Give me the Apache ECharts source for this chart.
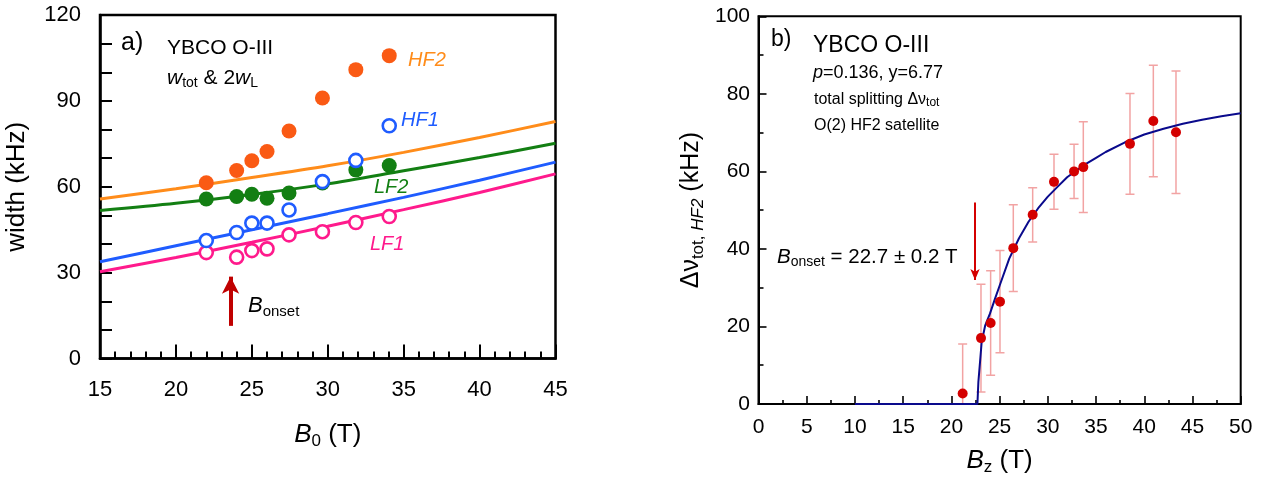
<!DOCTYPE html>
<html>
<head>
<meta charset="utf-8">
<script src="https://cdn.jsdelivr.net/npm/echarts@6/dist/echarts.min.js"></script>
<style>
html,body{margin:0;padding:0;background:#fff;}
#chart{width:1262px;height:481px;}
</style>
</head>
<body>
<div id="chart"></div>
<script>
// ---------- Panel a) data ----------
const leftX = [22.0, 24.0, 25.0, 26.0, 27.45, 29.65, 31.85, 34.05];
const hf2 = [61.4, 65.7, 69.1, 72.3, 79.5, 91.0, 100.9, 105.8];
const lf2 = [55.7, 56.6, 57.4, 56.0, 57.8, 61.3, 65.9, 67.4];
const hf1 = [41.2, 44.0, 47.3, 47.3, 51.9, 61.8, 69.2, 81.3];
const lf1 = [37.0, 35.4, 37.7, 38.3, 43.2, 44.3, 47.5, 49.6];

const fitX = [15, 20, 25, 30, 35, 40, 45];
const fitHF2 = [55.7, 59.3, 63.2, 67.3, 72.0, 77.2, 82.8];
const fitLF2 = [51.7, 54.2, 57.3, 61.0, 65.6, 70.2, 75.2];
const fitHF1 = [33.8, 39.4, 45.0, 50.6, 56.3, 62.3, 68.6];
const fitLF1 = [30.3, 35.3, 40.6, 46.2, 52.0, 58.0, 64.5];

const leftArrow = [[23.6, 11.4], [23.6, 28.6]];

// ---------- Panel b) data ----------
const bz = [21.17, 23.07, 24.07, 25.04, 26.42, 28.43, 30.64, 32.72, 33.68, 38.52, 40.94, 43.29];
const dnu = [2.7, 17.0, 20.9, 26.4, 40.2, 48.8, 57.3, 60.0, 61.1, 67.1, 73.0, 70.1];
const dnuErr = [12.8, 13.9, 13.5, 13.2, 11.2, 7.0, 7.1, 7.0, 11.7, 13.0, 14.4, 15.8];

const fitBz = [10, 22.7, 22.8, 22.97, 23.14, 23.5, 24, 24.5, 25, 26, 27, 28, 29, 30, 31, 32, 33, 34, 35, 36, 38, 40, 42, 44, 46, 48, 50];
const fitDnu = [0, 0, 5.7, 10.8, 16, 20.2, 23.3, 27, 30.5, 37.5, 42.7, 47, 50.5, 53.5, 56, 58.5, 60.3, 62, 63.5, 65, 67.5, 69.5, 71, 72.3, 73.3, 74.2, 75];

const rightArrow = [[22.45, 52], [22.45, 32]];

// tick labels
const leftXTicks = [15, 20, 25, 30, 35, 40, 45];
const leftYTicks = [0, 30, 60, 90, 120];
const rightXTicks = [0, 5, 10, 15, 20, 25, 30, 35, 40, 45, 50];
const rightYTicks = [0, 20, 40, 60, 80, 100];

const FONT = '"Liberation Sans", Arial, sans-serif';
const zip = (a, b) => a.map((v, i) => [v, b[i]]);

const chart = echarts.init(document.getElementById('chart'), null, {renderer: 'canvas'});

function axisBase(w, majorLen, minorLen, minorSplit, fs, margin) {
  return {
    type: 'value',
    axisLine: {show: true, onZero: false, lineStyle: {color: '#000', width: w}},
    axisTick: {show: true, inside: true, length: majorLen, lineStyle: {color: '#000', width: w * 0.8}},
    minorTick: {show: true, splitNumber: minorSplit, length: minorLen, lineStyle: {color: '#000', width: w * 0.8}},
    splitLine: {show: false},
    minorSplitLine: {show: false},
    axisLabel: {fontSize: fs, color: '#000', fontFamily: FONT, margin: margin}
  };
}

const option = {
  animation: false,
  backgroundColor: '#fff',
  textStyle: {fontFamily: FONT},
  grid: [
    {left: 100, top: 15, width: 455.5, height: 343.5, show: true, borderColor: '#000', borderWidth: 2.5, backgroundColor: 'transparent'},
    {left: 758.5, top: 16.3, width: 482.2, height: 389.2, show: true, borderColor: '#000', borderWidth: 2, backgroundColor: 'transparent'}
  ],
  xAxis: [
    Object.assign(axisBase(2.5, 14, 7, 5, 22, 20), {
      gridIndex: 0, min: leftXTicks[0], max: leftXTicks[leftXTicks.length - 1], interval: 5,
      name: '{i|B}{s|0}{n| (T)}', nameLocation: 'middle', nameGap: 61,
      nameTextStyle: {color: '#000', fontFamily: FONT, rich: {
        i: {fontSize: 26, fontStyle: 'italic', lineHeight: 30, fontFamily: FONT, color: '#000'},
        s: {fontSize: 17, lineHeight: 14, verticalAlign: 'bottom', fontFamily: FONT, color: '#000'},
        n: {fontSize: 26, lineHeight: 30, fontFamily: FONT, color: '#000'}}}
    }),
    Object.assign(axisBase(2, 8, 4, 2, 21, 12.5), {
      gridIndex: 1, min: rightXTicks[0], max: rightXTicks[rightXTicks.length - 1], interval: 5,
      name: '{i|B}{s|z}{n| (T)}', nameLocation: 'middle', nameGap: 42,
      nameTextStyle: {color: '#000', fontFamily: FONT, rich: {
        i: {fontSize: 26, fontStyle: 'italic', lineHeight: 30, fontFamily: FONT, color: '#000'},
        s: {fontSize: 17, lineHeight: 14, verticalAlign: 'bottom', fontFamily: FONT, color: '#000'},
        n: {fontSize: 26, lineHeight: 30, fontFamily: FONT, color: '#000'}}}
    })
  ],
  yAxis: [
    Object.assign(axisBase(2.5, 12, 12, 3, 22, 19), {
      gridIndex: 0, min: leftYTicks[0], max: leftYTicks[leftYTicks.length - 1], interval: 30,
      name: 'width (kHz)', nameLocation: 'middle', nameGap: 68,
      nameTextStyle: {fontSize: 26, color: '#000', fontFamily: FONT, lineHeight: 30}
    }),
    Object.assign(axisBase(2, 8, 5, 2, 21, 8.5), {
      gridIndex: 1, min: rightYTicks[0], max: rightYTicks[rightYTicks.length - 1], interval: 20,
      name: '{n|Δν}{s|tot, }{si|HF2}{n| (kHz)}', nameLocation: 'middle', nameGap: 52,
      nameTextStyle: {color: '#000', fontFamily: FONT, rich: {
        n: {fontSize: 25, lineHeight: 30, fontFamily: FONT, color: '#000'},
        s: {fontSize: 17, lineHeight: 14, verticalAlign: 'bottom', fontFamily: FONT, color: '#000'},
        si: {fontSize: 17, lineHeight: 14, verticalAlign: 'bottom', fontStyle: 'italic', fontFamily: FONT, color: '#000'}}}
    })
  ],
  series: [
    // fit lines panel a
    {type: 'line', xAxisIndex: 0, yAxisIndex: 0, data: zip(fitX, fitHF2), showSymbol: false, smooth: 0.3, lineStyle: {color: '#ff8c1a', width: 3}, z: 2},
    {type: 'line', xAxisIndex: 0, yAxisIndex: 0, data: zip(fitX, fitLF2), showSymbol: false, smooth: 0.3, lineStyle: {color: '#137f13', width: 3}, z: 2},
    {type: 'line', xAxisIndex: 0, yAxisIndex: 0, data: zip(fitX, fitHF1), showSymbol: false, smooth: 0.3, lineStyle: {color: '#1f5cff', width: 3}, z: 2},
    {type: 'line', xAxisIndex: 0, yAxisIndex: 0, data: zip(fitX, fitLF1), showSymbol: false, smooth: 0.3, lineStyle: {color: '#ff1a8c', width: 3}, z: 2,
      markLine: {silent: true, animation: false, symbol: ['none', 'arrow'], symbolSize: [13, 17], label: {show: false},
        lineStyle: {color: '#c00000', width: 4, type: 'solid'},
        data: [[{coord: leftArrow[0]}, {coord: leftArrow[1]}]]}},
    // points panel a
    {type: 'scatter', xAxisIndex: 0, yAxisIndex: 0, data: zip(leftX, hf2), symbolSize: 15, itemStyle: {color: '#fa5a14', opacity: 1}, z: 3},
    {type: 'scatter', xAxisIndex: 0, yAxisIndex: 0, data: zip(leftX, lf2), symbolSize: 15, itemStyle: {color: '#137f13', opacity: 1}, z: 3},
    {type: 'scatter', xAxisIndex: 0, yAxisIndex: 0, data: zip(leftX, lf1), symbolSize: 13, itemStyle: {color: '#fff', borderColor: '#ff1a8c', borderWidth: 2.6, opacity: 1}, z: 4},
    {type: 'scatter', xAxisIndex: 0, yAxisIndex: 0, data: zip(leftX, hf1), symbolSize: 13, itemStyle: {color: '#fff', borderColor: '#1f5cff', borderWidth: 2.6, opacity: 1}, z: 5},
    // error bars panel b
    {type: 'custom', xAxisIndex: 1, yAxisIndex: 1, clip: true, z: 2,
      data: bz.map((x, i) => [x, dnu[i] - dnuErr[i], dnu[i] + dnuErr[i]]),
      renderItem: function (params, api) {
        const lo = api.coord([api.value(0), api.value(1)]);
        const hi = api.coord([api.value(0), api.value(2)]);
        const hw = 4.5;
        const st = {stroke: '#f2a3a3', lineWidth: 1.5, fill: null};
        return {type: 'group', children: [
          {type: 'line', shape: {x1: lo[0], y1: lo[1], x2: hi[0], y2: hi[1]}, style: st},
          {type: 'line', shape: {x1: lo[0] - hw, y1: lo[1], x2: lo[0] + hw, y2: lo[1]}, style: st},
          {type: 'line', shape: {x1: hi[0] - hw, y1: hi[1], x2: hi[0] + hw, y2: hi[1]}, style: st}
        ]};
      }},
    // fit curve panel b
    {type: 'line', xAxisIndex: 1, yAxisIndex: 1, data: zip(fitBz, fitDnu), showSymbol: false, smooth: false, lineStyle: {color: '#0a0a8c', width: 2}, z: 3,
      markLine: {silent: true, animation: false, symbol: ['none', 'arrow'], symbolSize: [7, 11], label: {show: false},
        lineStyle: {color: '#d40000', width: 2, type: 'solid'},
        data: [[{coord: rightArrow[0]}, {coord: rightArrow[1]}]]}},
    {type: 'scatter', xAxisIndex: 1, yAxisIndex: 1, data: zip(bz, dnu), symbolSize: 10, itemStyle: {color: '#d40000', opacity: 1}, z: 4}
  ],
  graphic: [
    // panel a texts
    {type: 'text', x: 121, y: 43, style: {text: 'a)', fontSize: 25, fontFamily: FONT, fill: '#000', verticalAlign: 'middle'}},
    {type: 'text', x: 167, y: 48, style: {text: 'YBCO O-III', fontSize: 21, fontFamily: FONT, fill: '#000', verticalAlign: 'middle'}},
    {type: 'text', x: 167, y: 78, style: {text: '{i|w}{s|tot}{n| & 2}{i|w}{s|L}', fontFamily: FONT, fill: '#000', verticalAlign: 'middle',
      rich: {i: {fontSize: 21, fontStyle: 'italic', lineHeight: 24, fontFamily: FONT}, n: {fontSize: 21, lineHeight: 24, fontFamily: FONT}, s: {fontSize: 14, lineHeight: 12, verticalAlign: 'bottom', fontFamily: FONT}}}},
    {type: 'text', x: 408, y: 60, style: {text: 'HF2', fontSize: 20, fontStyle: 'italic', fontFamily: FONT, fill: '#ff8c1a', verticalAlign: 'middle'}},
    {type: 'text', x: 401, y: 120, style: {text: 'HF1', fontSize: 20, fontStyle: 'italic', fontFamily: FONT, fill: '#1f5cff', verticalAlign: 'middle'}},
    {type: 'text', x: 374, y: 187, style: {text: 'LF2', fontSize: 20, fontStyle: 'italic', fontFamily: FONT, fill: '#137f13', verticalAlign: 'middle'}},
    {type: 'text', x: 370, y: 244, style: {text: 'LF1', fontSize: 20, fontStyle: 'italic', fontFamily: FONT, fill: '#ff1a8c', verticalAlign: 'middle'}},
    {type: 'text', x: 248, y: 306, style: {text: '{i|B}{s|onset}', fontFamily: FONT, fill: '#000', verticalAlign: 'middle',
      rich: {i: {fontSize: 22, fontStyle: 'italic', lineHeight: 26, fontFamily: FONT}, s: {fontSize: 15, lineHeight: 13, verticalAlign: 'bottom', fontFamily: FONT}}}},
    // panel b texts
    {type: 'text', x: 771, y: 40, style: {text: 'b)', fontSize: 23, fontFamily: FONT, fill: '#000', verticalAlign: 'middle'}},
    {type: 'text', x: 813, y: 46, style: {text: 'YBCO O-III', fontSize: 23, fontFamily: FONT, fill: '#000', verticalAlign: 'middle'}},
    {type: 'text', x: 813, y: 73, style: {text: '{i|p}{n|=0.136, y=6.77}', fontFamily: FONT, fill: '#000', verticalAlign: 'middle',
      rich: {i: {fontSize: 18, fontStyle: 'italic', fontFamily: FONT}, n: {fontSize: 18, fontFamily: FONT}}}},
    {type: 'text', x: 814, y: 100, style: {text: '{n|total splitting Δν}{s|tot}', fontFamily: FONT, fill: '#000', verticalAlign: 'middle',
      rich: {n: {fontSize: 16, lineHeight: 18, fontFamily: FONT}, s: {fontSize: 12, lineHeight: 10, verticalAlign: 'bottom', fontFamily: FONT}}}},
    {type: 'text', x: 814, y: 126, style: {text: 'O(2) HF2 satellite', fontSize: 16, fontFamily: FONT, fill: '#000', verticalAlign: 'middle'}},
    {type: 'text', x: 777, y: 257, style: {text: '{i|B}{s|onset}{n| = 22.7 ± 0.2 T}', fontFamily: FONT, fill: '#000', verticalAlign: 'middle',
      rich: {i: {fontSize: 20.5, fontStyle: 'italic', lineHeight: 24, fontFamily: FONT}, n: {fontSize: 20.5, lineHeight: 24, fontFamily: FONT}, s: {fontSize: 14, lineHeight: 12, verticalAlign: 'bottom', fontFamily: FONT}}}}
  ]
};
chart.setOption(option);
</script>
</body>
</html>
